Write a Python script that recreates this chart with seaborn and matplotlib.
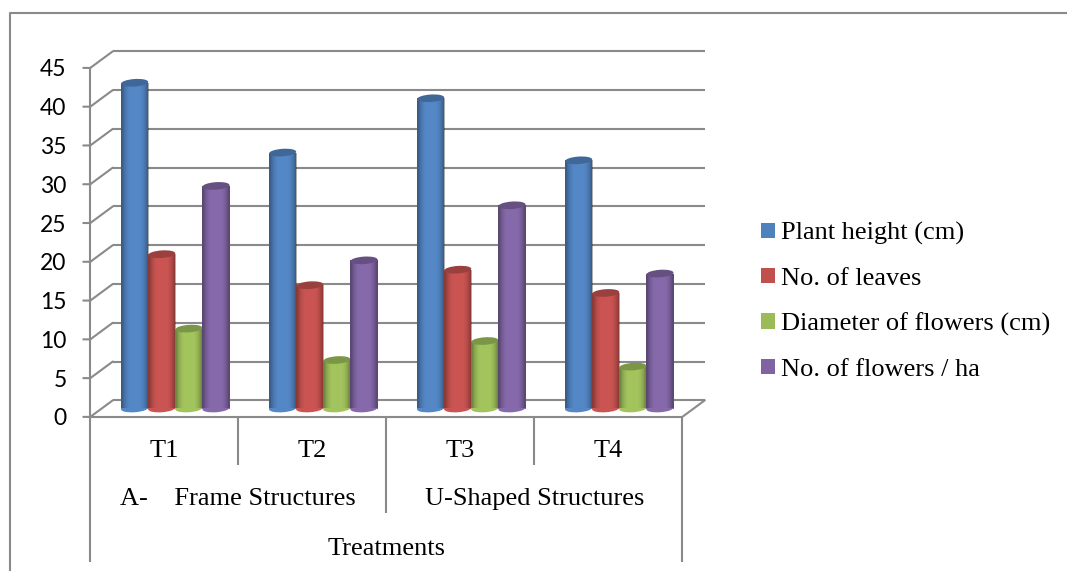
import numpy as np
import pandas as pd
import matplotlib
matplotlib.use('Agg')
import matplotlib.pyplot as plt
import seaborn as sns
from matplotlib.patches import Ellipse
from matplotlib.transforms import Affine2D, ScaledTranslation

treatments = ['T1', 'T2', 'T3', 'T4']
measures = ['Plant height (cm)', 'No. of leaves', 'Diameter of flowers (cm)', 'No. of flowers / ha']
plant_height = [42, 33, 40, 32]
leaves = [19.9, 15.9, 17.9, 14.9]
diameter = [10.3, 6.25, 8.7, 5.4]
flowers = [28.7, 19.1, 26.2, 17.4]
colors = ['#4F81BD', '#C0504D', '#9BBB59', '#8064A2']
y_ticks = [0, 5, 10, 15, 20, 25, 30, 35, 40, 45]
groups = ['A-    Frame Structures', 'U-Shaped Structures']
axis_title = 'Treatments'

df = pd.DataFrame({
    'treatment': treatments * 4,
    'measure': np.repeat(measures, 4),
    'value': plant_height + leaves + diameter + flowers,
})

W, H = 1067, 571
GRID = '#8a8a8a'
PX = 349 / 45  # pixels per y unit
AX_W = 592

fig = plt.figure(figsize=(W / 100, H / 100), dpi=100)
# axes sit on the mid depth plane, the bars stand on it
ax = fig.add_axes([101.3 / W, (H - 408.5) / H, AX_W / W, 349 / H])
sns.barplot(data=df, x='treatment', y='value', hue='measure', palette=colors,
            width=0.733, gap=0, saturation=1, ax=ax, zorder=3)
ax.set_xlim(-0.5, 3.5)
ax.set_ylim(0, 45)
ax.set_xlabel('')
ax.set_ylabel('')
ax.set_xticks([])
ax.set_yticks(y_ticks)
for s in ax.spines.values():
    s.set_visible(False)
ax.patch.set_alpha(0)


def shift(dx, dy):
    return ax.transData + ScaledTranslation(dx / 100, dy / 100, fig.dpi_scale_trans)


front = shift(-11, -8.4)
back = shift(11.5, 8.2)
tick_end = shift(-18, -8.4)


def line(xs, ys, trans):
    ax.plot(xs, ys, color=GRID, lw=1.5, transform=trans, clip_on=False, zorder=1,
            solid_capstyle='butt')


def link(x, y, trans_a, trans_b):
    ax.annotate('', xy=(x, y), xycoords=trans_a, xytext=(x, y), textcoords=trans_b,
                arrowprops=dict(arrowstyle='-', color=GRID, lw=1.5, shrinkA=0, shrinkB=0))


# walls
for v in y_ticks:
    line([-0.5, 3.5], [v, v], back)
    link(-0.5, v, back, front)
    link(-0.5, v, front, tick_end)
line([-0.5, -0.5], [0, 45], front)
line([-0.5, 3.5], [0, 0], front)
link(3.5, 0, back, front)

# multi level category axis
for x, drop in [(-0.5, 145), (0.5, 48), (1.5, 96), (2.5, 48), (3.5, 145)]:
    line([x, x], [0, -drop / PX], front)
serif = dict(transform=front, ha='center', va='center', clip_on=False,
             fontsize=19, family='Liberation Serif', color='black')
for i, t in enumerate(treatments):
    ax.text(i, -34 / PX, t, **serif)
for x, g in zip([0.5, 2.5], groups):
    ax.text(x, -82 / PX, g, **serif)
ax.text(1.5, -132 / PX, axis_title, **serif)

# y labels belong to the front plane
ax.tick_params(axis='y', length=0, pad=25, labelsize=16.5)
for lab in ax.get_yticklabels():
    lab.set_family('Lato')
    lab.set_color('black')
    lab.set_transform(lab.get_transform() + ScaledTranslation(0, -8.4 / 100, fig.dpi_scale_trans))

# cylinder shading over the seaborn bars, dark edges only
profile = np.array([0.32, 0.15, 0.05, 0.0, 0.0, 0.0, 0.0, 0.0, 0.05, 0.15, 0.32])
shade = np.zeros((1, len(profile), 4))
shade[0, :, 3] = profile

z = 4
for cont, color in zip(ax.containers, colors):
    rgb = matplotlib.colors.to_rgb(color)
    # the lit front of the cylinders is a bit brighter than the legend swatch
    bright = tuple(min(1, c * 1.05) for c in rgb)
    for bar in cont:
        x, w, h = bar.get_x(), bar.get_width(), bar.get_height()
        cx = x + w / 2
        wpx = w * AX_W / 4
        bar.set_zorder(z)
        bar.set_facecolor(bright)
        at_base = ScaledTranslation(cx, 0, ax.transData)
        at_top = ScaledTranslation(cx, h, ax.transData)
        tilt = Affine2D().rotate_deg(4)
        base = Ellipse((0, 0), wpx, 7.5, transform=tilt + at_base, fc=bright, ec='none',
                       zorder=z, clip_on=False)
        ax.add_patch(base)
        for clip, ext in ((bar, (x, x + w, 0, h)), (base, (x, x + w, -1, 0))):
            im = ax.imshow(shade, extent=ext, aspect='auto', zorder=z + 0.1,
                           interpolation='bilinear')
            im.set_clip_path(clip)
        top = Ellipse((0, 0), wpx, 7.5, transform=tilt + at_top,
                      fc=tuple(c * 0.8 for c in rgb),
                      ec='none', zorder=z + 0.2, clip_on=False)
        ax.add_patch(top)
        z += 1
ax.set_xlim(-0.5, 3.5)
ax.set_ylim(0, 45)

# legend on the right
handles, labels = ax.get_legend_handles_labels()
for handle, color in zip(handles, colors):
    handle.set_facecolor(color)
fig.legend(handles, labels, loc='upper left', bbox_to_anchor=(761 / W, 1 - 222 / H),
           frameon=False, handlelength=0.53, handleheight=0.53, handletextpad=0.23,
           labelspacing=0.86, borderpad=0, borderaxespad=0,
           prop={'family': 'Liberation Serif', 'size': 19})
if ax.get_legend():
    ax.get_legend().remove()

# chart frame, only left and top show in the crop
fig.add_artist(plt.Line2D([10 / W, 10 / W, 1],
                          [0, 1 - 13 / H, 1 - 13 / H], color=GRID, lw=1.5))

fig.savefig('out.png', dpi=100)
